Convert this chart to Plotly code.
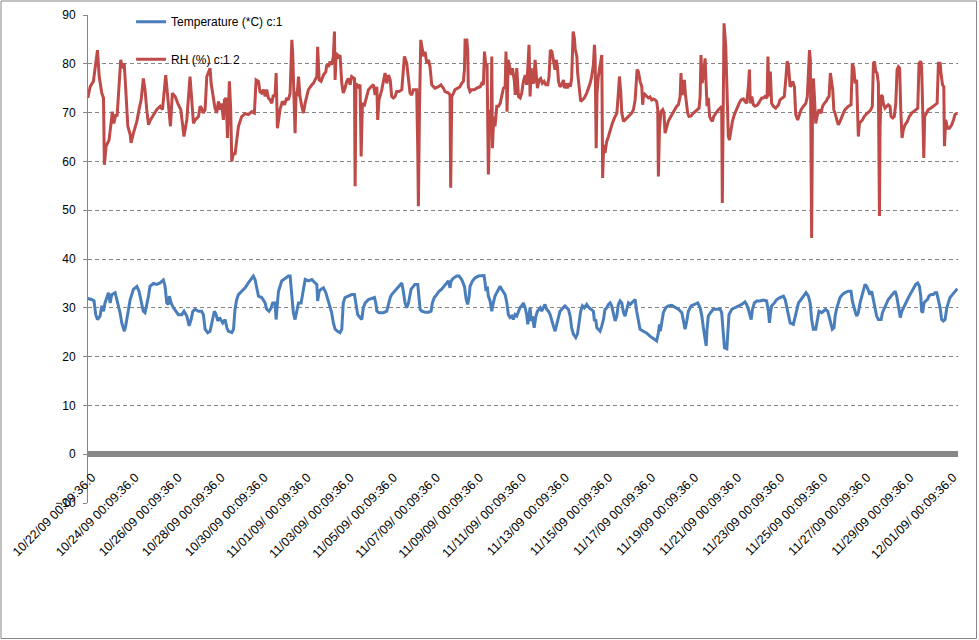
import plotly.graph_objects as go

# ---- data (time in days since 10/22/09 00:09:36) ----
tick_days = list(range(0, 41, 2))
tick_labels = [
    "10/22/09 00:09:36.0", "10/24/09 00:09:36.0", "10/26/09 00:09:36.0",
    "10/28/09 00:09:36.0", "10/30/09 00:09:36.0", "11/01/09/ 00:09:36.0",
    "11/03/09/ 00:09:36.0", "11/05/09/ 00:09:36.0", "11/07/09/ 00:09:36.0",
    "11/09/09/ 00:09:36.0", "11/11/09/ 00:09:36.0", "11/13/09 00:09:36.0",
    "11/15/09 00:09:36.0", "11/17/09 00:09:36.0", "11/19/09 00:09:36.0",
    "11/21/09 00:09:36.0", "11/23/09 00:09:36.0", "11/25/09 00:09:36.0",
    "11/27/09 00:09:36.0", "11/29/09 00:09:36.0", "12/01/09/ 00:09:36.0",
]

rh_day = [
    -0.2, -0.09, 0.06, 0.25, 0.33, 0.45, 0.53, 0.57, 0.65, 0.79, 0.88, 0.94, 1.01, 1.10, 1.16,
    1.33, 1.41, 1.49, 1.53, 1.66, 1.77, 1.81, 1.92, 2.08, 2.18, 2.28, 2.38, 2.46, 2.54, 2.62,
    2.71, 2.85, 3.00, 3.16, 3.27, 3.42, 3.52, 3.64, 3.73, 3.86, 3.98, 4.12, 4.27, 4.40, 4.55,
    4.71, 4.79, 4.94, 5.02, 5.09, 5.17, 5.25, 5.33, 5.40, 5.48, 5.53, 5.64, 5.71, 5.79, 5.87,
    5.95, 6.02, 6.10, 6.15, 6.23, 6.29, 6.38, 6.44, 6.49, 6.57, 6.64, 6.72, 6.80, 6.95, 7.11,
    7.26, 7.42, 7.54, 7.62, 7.73, 7.80, 7.88, 7.96, 8.04, 8.11, 8.19, 8.27, 8.35, 8.42, 8.50,
    8.55, 8.61, 8.66, 8.73, 8.84, 8.94, 9.04, 9.12, 9.20, 9.28, 9.32, 9.39, 9.43, 9.48, 9.52,
    9.59, 9.66, 9.74, 9.82, 9.90, 10.05, 10.21, 10.28, 10.36, 10.44, 10.48, 10.55, 10.64, 10.75,
    10.86, 10.90, 10.98, 11.06, 11.13, 11.21, 11.26, 11.29, 11.34, 11.40, 11.44, 11.52, 11.60,
    11.67, 11.75, 11.83, 11.91, 11.99, 12.06, 12.19, 12.22, 12.26, 12.37, 12.45, 12.50, 12.56,
    12.64, 12.76, 12.84, 12.96, 13.07, 13.15, 13.23, 13.27, 13.33, 13.46, 13.61, 13.69, 13.77,
    13.85, 13.92, 14.00, 14.08, 14.15, 14.26, 14.39, 14.51, 14.62, 14.70, 14.77, 14.85, 14.93,
    15.00, 15.08, 15.13, 15.16, 15.21, 15.27, 15.35, 15.41, 15.47, 15.55, 15.63, 15.70, 15.78,
    15.93, 16.09, 16.21, 16.32, 16.40, 16.56, 16.63, 16.66, 16.71, 16.79, 16.86, 16.99, 17.09,
    17.17, 17.25, 17.30, 17.33, 17.41, 17.45, 17.48, 17.56, 17.64, 17.76, 17.87, 18.03, 18.10,
    18.18, 18.23, 18.30, 18.35, 18.41, 18.48, 18.54, 18.57, 18.60, 18.66, 18.72, 18.80, 18.88,
    18.96, 19.03, 19.11, 19.19, 19.23, 19.28, 19.33, 19.40, 19.47, 19.53, 19.62, 19.66, 19.73,
    19.81, 19.89, 19.96, 20.04, 20.12, 20.19, 20.24, 20.30, 20.35, 20.40, 20.46, 20.52, 20.58,
    20.63, 20.69, 20.77, 20.84, 20.92, 21.00, 21.08, 21.17, 21.23, 21.29, 21.36, 21.43, 21.51,
    21.56, 21.62, 21.67, 21.74, 21.82, 21.90, 21.94, 22.01, 22.08, 22.16, 22.22, 22.28, 22.35,
    22.41, 22.44, 22.52, 22.56, 22.63, 22.70, 22.78, 22.87, 22.98, 23.06, 23.14, 23.21, 23.29,
    23.34, 23.37, 23.42, 23.46, 23.52, 23.60, 23.68, 23.72, 23.77, 23.83, 23.91, 23.99, 24.07,
    24.17, 24.27, 24.38, 24.45, 24.50, 24.56, 24.61, 24.69, 24.76, 24.92, 25.07, 25.15, 25.23,
    25.27, 25.32, 25.38, 25.46, 25.54, 25.58, 25.63, 25.69, 25.77, 25.85, 25.92, 26.00, 26.08,
    26.16, 26.23, 26.28, 26.31, 26.36, 26.43, 26.51, 26.57, 26.62, 26.70, 26.77, 26.85, 26.93,
    27.05, 27.16, 27.24, 27.32, 27.36, 27.41, 27.47, 27.52, 27.56, 27.63, 27.67, 27.73, 27.83,
    27.94, 28.09, 28.20, 28.25, 28.29, 28.34, 28.40, 28.48, 28.53, 28.57, 28.63, 28.69, 28.76,
    28.82, 28.88, 28.94, 29.02, 29.10, 29.18, 29.25, 29.28, 29.31, 29.36, 29.44, 29.49, 29.56,
    29.61, 29.67, 29.75, 29.84, 29.95, 30.06, 30.15, 30.26, 30.33, 30.41, 30.49, 30.54, 30.58,
    30.65, 30.72, 30.80, 30.92, 31.03, 31.11, 31.19, 31.26, 31.36, 31.40, 31.45, 31.51, 31.57,
    31.65, 31.76, 31.89, 31.96, 32.07, 32.16, 32.24, 32.29, 32.35, 32.43, 32.50, 32.55, 32.63,
    32.69, 32.78, 32.85, 32.94, 33.05, 33.16, 33.23, 33.28, 33.33, 33.37, 33.40, 33.43, 33.47,
    33.51, 33.56, 33.62, 33.70, 33.77, 33.87, 33.94, 34.02, 34.10, 34.18, 34.24, 34.30, 34.36,
    34.41, 34.46, 34.52, 34.60, 34.67, 34.75, 34.83, 34.90, 34.98, 35.14, 35.26, 35.32, 35.39,
    35.45, 35.52, 35.60, 35.65, 35.73, 35.79, 35.87, 35.94, 36.02, 36.10, 36.18, 36.25, 36.30,
    36.35, 36.41, 36.47, 36.53, 36.58, 36.61, 36.66, 36.72, 36.76, 36.84, 36.92, 36.99, 37.07,
    37.12, 37.20, 37.27, 37.34, 37.40, 37.46, 37.52, 37.57, 37.63, 37.69, 37.77, 37.88, 37.97,
    38.08, 38.19, 38.28, 38.36, 38.42, 38.50, 38.54, 38.59, 38.64, 38.68, 38.75, 38.85, 38.96,
    39.06, 39.16, 39.26, 39.32, 39.40, 39.44, 39.51, 39.57, 39.60, 39.66, 39.74, 39.83, 39.94,
    40.02, 40.09, 40.20,
]
rh_pct = [
    73.0, 75.3, 76.4, 82.8, 77.4, 74.0, 73.0, 59.3, 63.1, 64.4, 67.8, 70.2, 67.8, 69.6, 69.2,
    80.8, 79.1, 80.1, 77.4, 67.2, 65.5, 63.8, 65.8, 68.2, 70.6, 72.6, 77.0, 74.7, 70.6, 67.5,
    68.5, 69.6, 70.6, 71.3, 70.6, 77.7, 73.3, 67.2, 74.0, 73.3, 71.9, 70.6, 65.1, 68.5, 77.4,
    67.8, 68.5, 69.2, 71.3, 70.9, 69.9, 70.6, 77.4, 78.1, 79.1, 76.0, 72.6, 70.9, 69.9, 72.3,
    70.6, 71.9, 68.5, 72.6, 73.0, 64.8, 76.4, 70.6, 60.0, 61.7, 61.4, 65.1, 67.2, 69.2, 69.8,
    69.6, 70.2, 69.9, 76.7, 76.4, 74.3, 74.0, 74.7, 73.3, 74.7, 73.0, 72.6, 71.9, 73.6, 73.3,
    78.1, 66.8, 68.5, 70.6, 72.3, 71.6, 73.0, 72.6, 74.0, 84.9, 82.2, 73.3, 65.8, 74.3, 73.3,
    77.4, 73.3, 71.3, 69.9, 72.0, 74.7, 75.7, 76.0, 76.7, 77.4, 83.5, 76.7, 76.4, 77.7,
    78.4, 79.8, 79.4, 80.5, 79.8, 81.5, 86.6, 76.7, 82.2, 81.8, 81.1, 81.8, 76.0,
    74.0, 75.0, 76.4, 77.0, 75.7, 77.4, 77.0, 54.9, 76.0, 75.3, 75.7, 61.0, 72.0,
    71.3, 73.3, 74.7, 75.3, 75.7, 73.6, 75.3, 68.5, 72.6, 74.7, 78.1, 76.0, 77.7,
    76.7, 73.3, 73.0, 73.3, 74.3, 74.3, 74.7, 81.5, 80.1, 76.4, 74.0, 73.6, 74.7,
    74.7, 74.7, 62.4, 50.8, 70.6, 84.9, 82.8, 81.5, 82.5, 80.1, 80.8, 79.4, 75.7,
    75.0, 75.3, 75.7, 75.0, 74.3, 74.0, 73.6, 54.6, 73.3, 74.0, 74.7, 75.0, 75.3,
    76.0, 76.4, 78.8, 84.9, 84.9, 82.8, 75.3, 74.3, 74.7, 74.7, 75.0, 75.3, 76.0,
    75.7, 82.5, 79.4, 80.1, 57.3, 70.6, 68.5, 81.5, 62.7, 69.2, 67.2, 71.3, 71.3,
    71.9, 73.3, 75.0, 75.3, 82.5, 70.2, 80.8, 79.4, 77.7, 79.1, 76.4, 73.6, 79.1,
    73.3, 73.0, 74.0, 76.4, 77.7, 75.7, 78.8, 83.9, 73.3, 79.1, 76.4, 76.0, 80.8,
    77.4, 75.0, 76.7, 77.0, 76.0, 76.4, 75.7, 75.7, 77.4, 82.8, 82.5, 80.5, 78.8,
    80.8, 79.4, 76.4, 75.3, 75.7, 76.7, 75.0, 76.0, 75.0, 76.0, 75.3, 77.0, 86.6,
    85.2, 83.2, 81.5, 78.1, 74.3, 72.3, 72.6, 73.0, 74.0, 75.0, 76.0, 77.4, 79.8,
    83.9, 81.5, 62.7, 74.0, 77.4, 80.1, 81.8, 56.6, 63.4, 61.7, 64.1, 65.1, 66.5,
    67.8, 68.9, 69.9, 74.0, 77.4, 74.3, 69.9, 68.2, 68.5, 69.2, 69.9, 70.6, 72.6,
    75.3, 78.8, 78.4, 76.4, 75.3, 71.6, 74.0, 73.6, 73.3, 73.0, 73.2, 72.6, 72.8,
    72.6, 72.3, 70.6, 56.9, 66.5, 70.2, 70.6, 69.9, 65.8, 67.2, 68.2, 68.9, 69.6,
    70.6, 71.3, 71.6, 73.3, 78.1, 73.6, 74.7, 76.7, 74.0, 71.9, 69.9, 69.2, 69.3,
    69.9, 70.6, 70.9, 73.3, 81.8, 76.0, 77.4, 81.1, 76.7, 71.3, 73.0, 69.2, 68.5,
    68.2, 69.2, 69.6, 70.2, 70.6, 70.9, 71.3, 51.5, 63.8, 88.3, 83.5, 74.0, 65.1,
    64.4, 66.5, 68.2, 69.6, 70.9, 71.9, 72.6, 72.8, 72.3, 71.9, 75.3, 78.8, 71.9,
    73.3, 71.6, 71.3, 71.6, 72.6, 73.0, 73.0, 73.3, 73.0, 81.5, 73.3, 78.4, 71.9,
    71.3, 70.9, 71.6, 72.6, 73.0, 73.3, 77.4, 80.5, 79.8, 75.3, 75.7, 76.4, 75.3,
    69.6, 68.5, 69.6, 70.6, 71.3, 71.9, 73.3, 79.4, 82.8, 80.8, 68.2, 44.3, 70.6,
    77.0, 73.3, 67.8, 69.6, 70.6, 69.9, 71.3, 71.9, 72.3, 73.0, 73.3, 78.1, 76.0,
    74.7, 70.6, 69.9, 68.5, 67.5, 68.2, 69.2, 69.9, 70.6, 71.3, 71.6, 80.1, 79.1,
    76.0, 76.7, 65.1, 67.8, 68.2, 68.5, 69.2, 69.6, 69.9, 70.2, 70.6, 71.3, 80.1,
    80.5, 78.4, 78.1, 76.0, 48.8, 67.2, 73.6, 73.3, 71.9, 70.9, 71.3, 71.6, 71.3,
    69.2, 68.9, 69.2, 71.9, 78.8, 79.4, 79.1, 70.6, 64.8, 66.5, 67.5, 68.2, 69.2,
    69.9, 70.2, 70.6, 70.9, 80.1, 80.5, 79.4, 70.6, 60.7, 69.2, 69.9, 70.6, 70.9,
    71.3, 71.6, 71.9, 80.1, 80.1, 78.1, 75.7, 75.3, 63.1, 68.5, 66.8, 66.8, 67.5,
    68.5, 69.6, 69.9,
]

temp_day = [
    -0.2, -0.02, 0.09, 0.17, 0.25, 0.37, 0.45, 0.53, 0.60, 0.76, 0.84, 0.91, 1.07, 1.15, 1.22,
    1.30, 1.38, 1.50, 1.56, 1.69, 1.77, 1.92, 2.08, 2.18, 2.28, 2.38, 2.46, 2.54, 2.62, 2.69,
    2.85, 3.00, 3.16, 3.31, 3.39, 3.47, 3.55, 3.59, 3.67, 3.78, 3.89, 4.01, 4.17, 4.27, 4.40,
    4.51, 4.60, 4.68, 4.79, 4.94, 5.09, 5.17, 5.25, 5.37, 5.48, 5.59, 5.68, 5.76, 5.84, 5.92,
    6.00, 6.07, 6.18, 6.26, 6.33, 6.49, 6.57, 6.64, 6.72, 6.80, 6.95, 7.11, 7.26, 7.39, 7.49,
    7.57, 7.65, 7.73, 7.88, 8.04, 8.11, 8.22, 8.32, 8.39, 8.50, 8.55, 8.61, 8.66, 8.81, 8.97,
    9.12, 9.20, 9.28, 9.35, 9.43, 9.51, 9.59, 9.71, 9.79, 9.90, 10.05, 10.21, 10.36, 10.44,
    10.48, 10.55, 10.64, 10.75, 10.86, 10.98, 11.06, 11.13, 11.21, 11.29, 11.40, 11.52, 11.60,
    11.67, 11.75, 11.91, 12.06, 12.19, 12.25, 12.34, 12.45, 12.53, 12.60, 12.69, 12.84, 12.99,
    13.12, 13.18, 13.23, 13.33, 13.54, 13.69, 13.77, 13.85, 13.92, 14.05, 14.23, 14.39, 14.46,
    14.54, 14.62, 14.70, 14.82, 14.93, 15.00, 15.13, 15.19, 15.24, 15.32, 15.47, 15.63, 15.75,
    15.81, 15.90, 16.01, 16.12, 16.24, 16.37, 16.48, 16.55, 16.63, 16.68, 16.79, 16.94, 17.05,
    17.17, 17.30, 17.38, 17.45, 17.52, 17.56, 17.67, 17.79, 17.95, 18.10, 18.21, 18.26, 18.30,
    18.36, 18.41, 18.49, 18.57, 18.64, 18.72, 18.80, 18.88, 18.96, 19.03, 19.11, 19.19, 19.27,
    19.34, 19.42, 19.50, 19.57, 19.65, 19.73, 19.81, 19.88, 19.96, 20.04, 20.12, 20.19, 20.24,
    20.30, 20.35, 20.40, 20.46, 20.54, 20.62, 20.69, 20.82, 20.89, 20.97, 21.04, 21.12, 21.20,
    21.28, 21.36, 21.43, 21.51, 21.59, 21.67, 21.74, 21.82, 21.90, 21.97, 22.05, 22.13, 22.21,
    22.28, 22.36, 22.47, 22.55, 22.63, 22.70, 22.78, 22.87, 22.98, 23.09, 23.18, 23.29, 23.34,
    23.40, 23.45, 23.52, 23.60, 23.68, 23.76, 23.83, 23.91, 23.99, 24.07, 24.14, 24.22, 24.30,
    24.38, 24.45, 24.53, 24.61, 24.69, 24.76, 24.84, 24.92, 25.00, 25.07, 25.15, 25.23, 25.30,
    25.38, 25.46, 25.61, 25.77, 25.92, 26.08, 26.23, 26.31, 26.36, 26.40, 26.47, 26.54, 26.65,
    26.77, 26.93, 27.09, 27.24, 27.40, 27.47, 27.55, 27.63, 27.70, 27.83, 27.98, 28.14, 28.25,
    28.33, 28.40, 28.48, 28.53, 28.57, 28.63, 28.73, 28.86, 29.02, 29.18, 29.25, 29.33, 29.38,
    29.49, 29.53, 29.59, 29.72, 29.87, 30.03, 30.18, 30.33, 30.41, 30.49, 30.57, 30.62, 30.68,
    30.77, 30.88, 31.03, 31.19, 31.34, 31.42, 31.47, 31.51, 31.57, 31.70, 31.81, 31.96, 32.12,
    32.20, 32.27, 32.35, 32.43, 32.58, 32.66, 32.74, 32.82, 32.94, 33.05, 33.17, 33.28, 33.36,
    33.43, 33.51, 33.62, 33.71, 33.77, 33.90, 33.98, 34.08, 34.18, 34.24, 34.33, 34.39, 34.47,
    34.52, 34.60, 34.67, 34.75, 34.86, 34.98, 35.14, 35.26, 35.32, 35.39, 35.45, 35.52, 35.60,
    35.68, 35.76, 35.83, 35.91, 35.99, 36.07, 36.14, 36.22, 36.30, 36.38, 36.45, 36.53, 36.66,
    36.72, 36.81, 36.92, 36.99, 37.12, 37.23, 37.31, 37.38, 37.43, 37.49, 37.55, 37.62, 37.69,
    37.77, 37.85, 37.93, 38.05, 38.16, 38.27, 38.36, 38.44, 38.50, 38.54, 38.59, 38.65, 38.73,
    38.81, 38.88, 38.98, 39.08, 39.16, 39.24, 39.32, 39.40, 39.47, 39.55, 39.63, 39.71, 39.78,
    39.86, 39.97, 40.09, 40.20,
]
temp_c = [
    31.9, 31.7, 31.4, 28.6, 27.6, 28.3, 30.4, 29.3, 31.0, 33.1, 31.0, 32.7, 33.1, 31.7, 30.0,
    29.0, 26.9, 25.2, 26.3, 29.7, 31.7, 33.8, 34.4, 33.4, 31.0, 29.3, 29.0, 30.4, 32.4, 34.4,
    35.0, 34.8, 35.1, 35.7, 34.4, 31.0, 30.7, 32.4, 31.0, 30.0, 29.3, 28.6, 28.6, 29.3, 28.3,
    26.3, 27.6, 29.3, 29.7, 29.3, 29.3, 28.6, 25.6, 24.9, 25.2, 27.3, 29.3, 28.6, 27.3, 28.0,
    27.3, 26.9, 27.6, 25.9, 25.2, 24.9, 25.6, 29.7, 31.7, 32.7, 33.4, 34.1, 35.1, 35.8, 36.5,
    35.8, 33.8, 32.4, 32.1, 31.0, 29.7, 29.3, 30.0, 31.0, 31.0, 27.6, 31.0, 33.4, 35.5, 36.1,
    36.5, 36.5, 31.7, 29.0, 27.6, 29.7, 31.0, 31.0, 33.1, 35.8, 35.5, 35.8, 35.1, 34.8,
    31.4, 33.4, 33.8, 34.1, 33.1, 31.0, 29.7, 29.0, 26.9, 25.6, 25.2, 24.9, 25.6,
    31.0, 32.1, 32.4, 32.7, 32.7, 31.0, 28.6, 28.0, 27.6, 30.0, 31.0, 31.7, 31.9,
    32.1, 31.0, 29.3, 29.0, 29.0, 29.3, 31.0, 32.1, 32.7, 33.4, 34.4, 35.1, 33.4,
    31.0, 30.0, 31.0, 33.8, 34.4, 34.8, 34.8, 32.4, 29.7, 29.3, 29.1, 29.1, 29.3,
    31.0, 32.1, 32.7, 33.4, 33.8, 34.4, 35.1, 35.5, 34.1, 35.5, 36.1, 36.5, 36.5,
    35.8, 34.4, 31.7, 30.7, 32.4, 34.4, 35.5, 36.1, 36.5, 36.5, 36.6, 35.1, 33.4,
    34.4, 32.4, 31.4, 29.3, 31.0, 32.4, 33.1, 33.8, 34.4, 33.8, 33.1, 32.7, 31.0,
    28.6, 28.0, 28.3, 27.6, 28.6, 28.3, 29.3, 30.0, 30.4, 31.0, 30.0, 28.6, 26.6,
    29.0, 30.0, 27.3, 28.3, 25.9, 28.3, 29.3, 30.0, 29.3, 30.0, 30.7, 29.7, 29.3,
    28.6, 27.6, 26.3, 25.2, 26.6, 28.6, 29.3, 29.7, 30.0, 30.4, 30.0, 29.7, 28.3,
    25.9, 24.6, 23.9, 24.6, 27.3, 29.3, 30.4, 30.0, 30.7, 30.0, 29.7, 29.3, 27.3,
    27.6, 25.9, 25.6, 25.2, 26.3, 27.6, 29.7, 30.0, 30.7, 31.0, 30.4, 28.6, 27.3,
    28.3, 30.7, 31.4, 31.0, 29.0, 28.3, 29.7, 31.0, 30.7, 31.0, 31.4, 31.7, 29.3,
    27.3, 25.6, 25.2, 24.8, 24.2, 23.7, 23.2, 24.9, 26.6, 25.2, 27.6, 29.0, 30.0,
    30.4, 30.5, 30.0, 29.7, 29.0, 27.3, 25.6, 27.3, 29.3, 30.4, 30.7, 31.0, 30.0,
    28.3, 25.9, 23.5, 22.2, 25.6, 28.3, 29.0, 29.7, 29.7, 29.7, 29.0, 24.6, 21.8,
    21.6, 25.6, 28.6, 29.7, 30.0, 30.4, 30.7, 31.2, 30.7, 29.7, 28.0, 27.6, 29.7,
    31.0, 31.4, 31.4, 31.6, 31.4, 29.3, 26.9, 28.6, 30.4, 31.0, 31.7, 32.1, 32.4,
    31.7, 30.4, 28.3, 26.9, 26.6, 28.0, 30.0, 31.0, 31.7, 32.4, 33.1, 32.4, 31.0,
    27.6, 25.6, 25.6, 28.3, 29.3, 29.0, 29.3, 29.7, 29.3, 28.3, 26.3, 25.6, 25.9,
    28.3, 30.0, 31.0, 32.1, 32.7, 33.1, 33.4, 33.4, 31.4, 30.0, 29.3, 28.3, 29.0,
    31.0, 32.4, 33.8, 34.8, 34.4, 33.4, 32.7, 33.4, 31.7, 30.0, 28.3, 27.6, 27.6,
    29.0, 30.0, 31.0, 31.7, 32.4, 33.1, 33.4, 32.4, 31.0, 29.0, 28.0, 29.3, 30.0,
    30.7, 31.4, 32.1, 33.1, 34.1, 34.8, 35.1, 34.4, 32.4, 29.3, 29.0, 31.0, 31.4,
    31.7, 32.4, 32.7, 32.7, 33.1, 33.1, 31.7, 30.0, 27.6, 27.3, 27.6, 30.0, 31.0,
    32.1, 32.7, 33.4, 33.9,
]

series_names = ["Temperature (*C) c:1", "RH (%) c:1 2"]
series_colors = ["#4a7ebb", "#be4b48"]

# ---- figure ----
fig = go.Figure()
fig.add_trace(go.Scatter(x=temp_day, y=temp_c, mode="lines", name=series_names[0],
                         line=dict(color=series_colors[0], width=3), legend="legend"))
fig.add_trace(go.Scatter(x=rh_day, y=rh_pct, mode="lines", name=series_names[1],
                         line=dict(color=series_colors[1], width=3), legend="legend2"))

family = "Liberation Sans, Arial, sans-serif"
font = dict(family=family, size=12, color="#000000")
xfont = dict(family=family, size=12.5, color="#000000")
grid_col = "#868686"

fig.update_layout(
    width=979, height=640,
    margin=dict(l=88, r=21, t=15, b=137, autoexpand=False),
    paper_bgcolor="white", plot_bgcolor="white",
    font=font,
    showlegend=True,
    legend=dict(x=0.0495, y=1.016, xanchor="left", yanchor="top",
                bgcolor="rgba(0,0,0,0)", font=font, itemwidth=30),
    legend2=dict(x=0.0495, y=0.939, xanchor="left", yanchor="top",
                 bgcolor="rgba(0,0,0,0)", font=font, itemwidth=30),
    xaxis=dict(
        range=[-0.19, 40.23],
        anchor="free", position=0.1, automargin=False,
        showgrid=False, zeroline=False,
        showline=True, linecolor="#878787", linewidth=6,
        tickmode="array", tickvals=tick_days, ticktext=tick_labels,
        tickangle=-45, ticks="", tickfont=xfont, ticklabelstandoff=8,
    ),
    yaxis=dict(
        range=[-10, 90], dtick=10, tick0=0, automargin=False,
        showgrid=True, gridcolor=grid_col, gridwidth=1, griddash="4px,3px",
        zeroline=False,
        showline=True, linecolor=grid_col, linewidth=1,
        ticks="outside", ticklen=4, tickcolor=grid_col,
        ticklabelstandoff=5, tickfont=font,
    ),
    shapes=[dict(type="rect", xref="paper", yref="paper",
                 x0=-0.1, x1=1.0213, y0=-0.2777, y1=1.0287,
                 line=dict(color="#868686", width=1), fillcolor="rgba(0,0,0,0)",
                 layer="below")],
)

fig.write_html("out.html", config={"displayModeBar": False},
               post_script="document.body.style.margin='0';")
